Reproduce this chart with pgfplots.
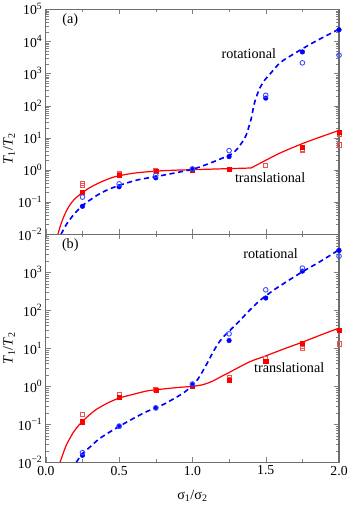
\documentclass[border=0pt]{standalone}
\usepackage{fontspec}
\setmainfont{Liberation Serif}
\usepackage{pgfplots}
\pgfplotsset{compat=1.18}
\definecolor{fr}{RGB}{110,110,110}
\definecolor{lred}{RGB}{245,80,80}
\definecolor{lblue}{RGB}{60,80,255}
\newcommand{\tenp}[1]{10\textsuperscript{#1}}
\tikzset{
  myrot/.style={blue, line width=1.6pt, dash pattern=on 5bp off 3.5bp, smooth},
  mytra/.style={red, line width=1.2pt, smooth},
  myfs/.style={only marks, mark=square*, red, mark size=2bp},
  myos/.style={only marks, mark=square, lred, mark size=2bp, mark options={line width=0.9pt}},
  myfc/.style={only marks, mark=*, blue, mark size=2.3bp},
  myoc/.style={only marks, mark=o, lblue, mark size=2.3bp, mark options={line width=0.9pt}},
}
\def\minlist{2e-2,3e-2,4e-2,5e-2,6e-2,7e-2,8e-2,9e-2,0.2,0.3,0.4,0.5,0.6,0.7,0.8,0.9,2,3,4,5,6,7,8,9,20,30,40,50,60,70,80,90,200,300,400,500,600,700,800,900,2000,3000,4000,5000,6000,7000,8000,9000,20000,30000,40000,50000,60000,70000,80000,90000}
\begin{document}
\begin{tikzpicture}
\begin{axis}[name=a, scale only axis, width=288bp, height=221bp,
  ymode=log, xmin=0, xmax=2, ymin=1e-2, ymax=1e5,
  xtick={0,0.5,1,1.5,2}, minor xtick={0.25,0.75,1.25,1.75},
  xticklabels={},
  ytick={1e-2,1e-1,1,10,100,1e3,1e4,1e5},
  minor ytick/.expanded={\minlist},
  yticklabels={\tenp{−2},\tenp{−1},\tenp{0},\tenp{1},\tenp{2},\tenp{3},\tenp{4},\tenp{5}},
  tick align=inside, tick pos=both, clip=false,
  axis line style={fr, line width=1.1pt},
  major tick length=5bp, minor tick length=3bp,
  tick label style={font=\fontsize{13.5}{15}\selectfont},
  label style={font=\fontsize{14}{16}\selectfont},
  ylabel={\textit{T}\textsubscript{1}/\textit{T}\textsubscript{2}},
  ylabel style={at={(axis description cs:-0.125,0.38)}, anchor=center}]
\addplot[mytra] coordinates {(0.083,0.01)(0.1,0.0186)(0.12,0.0331)(0.14,0.0525)(0.16,0.0759)(0.18,0.102)(0.2,0.129)(0.225,0.162)(0.25,0.2)(0.3,0.282)(0.35,0.372)(0.4,0.47)(0.463,0.6)(0.55,0.73)(0.625,0.82)(0.75,0.92)(0.875,0.98)(1.0,1.02)(1.25,1.1)(1.4,1.15)};
\addplot[mytra] coordinates {(1.4,1.15)(1.5,2.0)(1.6,3.4)(1.75,6.6)(1.87,10.5)(2.0,17)};
\addplot[myrot] coordinates {(0.104,0.01)(0.14,0.02)(0.185,0.038)(0.25,0.078)(0.347,0.16)(0.42,0.24)(0.5,0.33)(0.625,0.49)(0.75,0.62)(0.875,0.8)(1.0,1.05)(1.1,1.5)(1.18,2.1)(1.26,3.0)(1.3,4.2)(1.32,5.5)(1.345,8)(1.366,12)(1.385,22)(1.40,38)(1.412,70)(1.424,125)(1.44,210)(1.458,340)(1.49,600)(1.528,950)(1.6,2200)(1.7,4300)(1.83,9500)(2.0,24000)};
\addplot[myos] coordinates {(0.25,0.37)(0.5,0.79)(0.75,0.97)(1.0,1.0)(1.25,1.07)(1.5,1.34)(1.75,4.1)(2.0,6)};
\addplot[myos] coordinates {(0.25,0.34)(0.5,0.72)(1.75,4.5)(2.0,13)};
\addplot[myfs] coordinates {(0.25,0.2)(0.5,0.68)(0.75,0.93)(1.0,1.0)(1.25,1.05)(1.75,5.2)(2.0,15)};
\addplot[myfc] coordinates {(0.25,0.074)(0.5,0.30)(0.75,0.57)(1.0,1.05)(1.25,2.6)(1.5,172)(1.75,4700)(2.0,23000)};
\addplot[myoc] coordinates {(0.25,0.143)(0.5,0.37)(0.75,0.68)(1.0,1.08)(1.25,4.0)(1.5,210)(1.75,2150)(2.0,3700)};
\node[font=\fontsize{14}{16}\selectfont] at (axis cs:0.167,46000) {(a)};
\node[font=\fontsize{14}{16}\selectfont] at (axis cs:1.385,4100) {rotational};
\node[font=\fontsize{14}{16}\selectfont] at (axis cs:1.53,0.56) {translational};
\end{axis}
\begin{axis}[at={(a.south west)}, anchor=north west, scale only axis, width=288bp, height=224bp,
  ymode=log, xmin=0, xmax=2, ymin=1e-2, ymax=1e4,
  xtick={0,0.5,1,1.5,2}, minor xtick={0.25,0.75,1.25,1.75},
  xticklabels={0.0,0.5,1.0,1.5,2.0},
  ytick={1e-2,1e-1,1,10,100,1e3},
  minor ytick/.expanded={\minlist},
  yticklabels={\tenp{−2},\tenp{−1},\tenp{0},\tenp{1},\tenp{2},\tenp{3}},
  tick align=inside, tick pos=both, clip=false,
  axis line style={fr, line width=1.1pt},
  major tick length=5bp, minor tick length=3bp,
  tick label style={font=\fontsize{13.5}{15}\selectfont},
  label style={font=\fontsize{14}{16}\selectfont},
  ylabel={\textit{T}\textsubscript{1}/\textit{T}\textsubscript{2}},
  ylabel style={at={(axis description cs:-0.125,0.5)}, anchor=center},
  xlabel={σ\textsubscript{1}/σ\textsubscript{2}},
  xlabel style={at={(axis description cs:0.5,-0.147)}, anchor=center}]
\addplot[mytra] coordinates {(0.097,0.01)(0.118,0.017)(0.139,0.028)(0.16,0.04)(0.185,0.059)(0.215,0.085)(0.25,0.12)(0.3,0.18)(0.347,0.25)(0.42,0.36)(0.5,0.49)(0.6,0.62)(0.694,0.76)(0.8,0.85)(0.9,0.93)(1.0,1.0)(1.07,1.1)(1.134,1.35)(1.19,1.75)(1.25,2.3)(1.39,4.4)(1.5,6.3)(1.62,9.5)(1.75,14.5)(1.87,22)(2.0,34)};
\addplot[myrot] coordinates {(0.208,0.01)(0.25,0.017)(0.3,0.025)(0.37,0.043)(0.5,0.088)(0.67,0.2)(0.8,0.33)(0.85,0.42)(0.9,0.54)(0.95,0.72)(1.0,1.05)(1.035,1.5)(1.065,2.3)(1.1,4.0)(1.134,7.1)(1.165,11.5)(1.2,17.8)(1.25,28)(1.32,52)(1.39,100)(1.458,178)(1.55,331)(1.65,590)(1.75,1030)(1.87,1900)(2.0,3900)};
\addplot[myos] coordinates {(0.25,0.18)(0.5,0.6)(0.75,0.83)(1.0,0.98)(1.25,1.67)(1.5,5.3)(1.75,9.8)(2.0,13)};
\addplot[myos] coordinates {(1.25,1.5)(1.75,11.5)};
\addplot[myfs] coordinates {(0.25,0.117)(0.5,0.51)(0.75,0.81)(1.0,0.98)(1.25,1.45)(1.5,4.7)(1.75,13.4)(2.0,30)};
\addplot[myfc] coordinates {(0.25,0.0153)(0.5,0.088)(0.75,0.27)(1.0,1.1)(1.25,16)(1.5,210)(1.75,1070)(2.0,3750)};
\addplot[myoc] coordinates {(0.25,0.018)(0.5,0.09)(0.75,0.27)(1.0,1.15)(1.25,24)(1.5,345)(1.75,1290)(2.0,2650)};
\node[font=\fontsize{14}{16}\selectfont] at (axis cs:0.167,5100) {(b)};
\node[font=\fontsize{14}{16}\selectfont] at (axis cs:1.533,3000) {rotational};
\node[font=\fontsize{14}{16}\selectfont] at (axis cs:1.66,3.1) {translational};
\end{axis}
\end{tikzpicture}
\end{document}
